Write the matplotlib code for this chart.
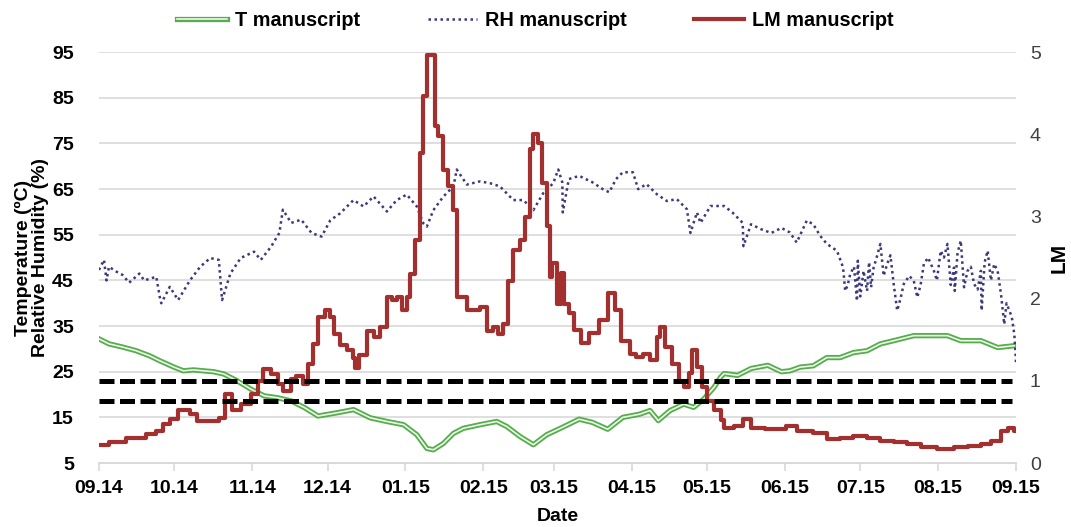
import pandas as pd
import matplotlib
matplotlib.use('Agg')
import matplotlib.pyplot as plt
import matplotlib.patheffects as pe

# day offsets from 14 Sep 2014
t_day = [0, 4, 9.4, 14.8, 20.1, 24.2, 29.9, 33.6, 37.6, 45.6, 49.7, 55, 60.4, 65.8, 71.1,
         76.5, 81.9, 87.2, 94.7, 101.3, 108, 114.6, 121.2, 126.5, 130.5, 133.1, 137.1,
         141.1, 145, 151.7, 158.3, 162.3, 167.6, 172.9, 178.2, 184.4, 191.1, 196.4, 202.5,
         208.5, 215.2, 219.3, 222.6, 227.3, 232.7, 236.7, 240.7, 244.8, 247.4, 248.8,
         254.2, 259.5, 266.2, 271.6, 275, 279, 284.3, 289.7, 295, 300.3, 305.7, 311,
         316.3, 324.3, 331, 337.7, 343, 351, 357.7, 364.3]
t_val = [32.2, 31.1, 30.4, 29.6, 28.5, 27.4, 26.0, 25.2, 25.4, 25.0, 24.5, 23.0, 21.2, 19.7,
         19.3, 18.6, 17.1, 15.3, 16.0, 16.7, 14.9, 14.1, 13.4, 11.2, 8.2, 7.9, 9.3, 11.5,
         12.6, 13.4, 14.1, 13.0, 10.8, 9.0, 11.2, 12.8, 14.6, 13.9, 12.4, 15.0, 15.7, 16.5,
         14.3, 16.5, 17.9, 17.2, 19.0, 21.6, 23.8, 24.6, 24.2, 25.7, 26.4, 25.0, 25.2, 26.0,
         26.3, 28.1, 28.1, 29.2, 29.6, 31.1, 31.8, 32.9, 32.9, 32.9, 31.8, 31.8, 30.3, 30.7]

rh_day = [0, 2, 3, 4, 6.7, 9.4, 12, 16.1, 18, 22.8, 24.2, 24.8, 28.2, 31.5, 36.2, 40.3,
          44.3, 47.7, 49, 52.3, 56.4, 61.7, 64.4, 68.5, 71.8, 73.2, 76.5, 80.5, 84.6, 88.6,
          92.1, 96, 101.3, 105.3, 109.3, 114.6, 118.5, 122.5, 126.5, 129.1, 130.5, 133.1,
          137.1, 141.1, 142.4, 146.4, 151.7, 155.6, 159.6, 164.9, 168.9, 172.9, 176.8,
          180.8, 182.8, 184.4, 184.6, 187, 191.1, 196.4, 200.5, 203.1, 205.8, 208.5, 212.5,
          214.6, 217.9, 222, 226, 230, 234, 235.4, 238, 239.4, 243.4, 248.8, 252.1, 256.2,
          256.5, 259.5, 263.6, 267.6, 271.6, 275, 277.7, 281.7, 284.3, 287, 289.7, 293.7,
          295.7, 296.3, 297, 298, 299, 300.5, 301.7, 302, 303, 304.3, 305.7, 306.5, 307.3,
          308.3, 309.5, 311, 312.3, 313.7, 315, 316.3, 317.7, 319, 320.3, 322.5, 324.3,
          325.7, 327, 328.3, 330, 332.3, 333.5, 335, 336.3, 337.7, 339, 340.3, 340.6, 341.7,
          343, 344.3, 345.7, 347, 348.3, 349.7, 351, 351.3, 352.5, 353.7, 355, 356.3, 357.7,
          359, 360.3, 361.2, 362.3, 363.3, 364.3, 364.7, 365]
rh_val = [47.3, 49.5, 45.0, 48.0, 47.0, 46.2, 44.5, 46.5, 45.0, 45.8, 41.4, 40.0, 43.6, 40.7,
          45.0, 48.0, 49.9, 49.5, 40.7, 46.5, 49.9, 51.3, 49.5, 52.4, 55.4, 60.5, 57.6, 58.3,
          55.4, 54.6, 58.2, 59.7, 62.6, 61.2, 63.4, 60.1, 62.6, 63.8, 61.2, 57.5, 56.8, 60.4,
          63.4, 65.6, 69.3, 66.0, 66.7, 66.3, 65.6, 62.6, 62.6, 60.4, 64.1, 66.3, 69.3, 66.5,
          59.9, 67.2, 67.9, 66.5, 65.0, 64.3, 67.2, 68.7, 68.7, 65.0, 66.1, 63.9, 62.4, 62.8,
          60.6, 55.4, 59.9, 57.6, 61.3, 61.3, 59.9, 57.6, 52.5, 57.3, 56.2, 55.4, 56.5, 55.5,
          53.3, 58.1, 57.3, 54.8, 53.0, 51.5, 48.6, 47.0, 42.7, 44.0, 46.4, 48.0, 40.5, 49.3,
          41.5, 47.1, 42.7, 49.0, 43.5, 47.8, 50.0, 53.0, 46.0, 48.6, 50.5, 44.2, 38.4, 41.0,
          44.2, 46.0, 44.9, 41.3, 44.0, 48.6, 50.0, 47.1, 45.0, 51.5, 50.0, 53.0, 44.0, 47.8,
          42.7, 51.0, 53.7, 43.5, 47.1, 48.0, 44.2, 43.0, 47.1, 38.4, 49.0, 51.5, 45.0, 48.6,
          47.0, 42.0, 35.4, 40.0, 38.4, 37.0, 33.2, 30.0, 26.7]

lm_day = [0, 4, 8, 10.7, 14.8, 18.8, 22.8, 25.5, 28.2, 31.5, 36.2, 38.9, 42.9, 47.7, 50.3,
          53, 56.4, 60.4, 63.1, 65.1, 68.5, 71.1, 73.2, 76.5, 78.5, 81.2, 83.2, 85.2, 87.2,
          89.9, 91.9, 93.4, 96, 98.7, 101.3, 102, 103.3, 106.6, 109.3, 111.9, 114.6, 116.6,
          118.5, 120.5, 122.5, 123.8, 125.8, 127.8, 129.1, 130.5, 132.5, 133.8, 135.1, 137.1,
          139.1, 141.1, 142.4, 144.4, 146.4, 149, 151.7, 154.3, 157, 159, 160.9, 162.9, 164.9,
          167.6, 169.5, 171.5, 172.9, 174.8, 176.2, 178.2, 179.5, 180.3, 182.3, 183.7, 185,
          187, 189, 191.7, 195.1, 199.1, 202.5, 205.2, 207.8, 211.2, 213.9, 216.6, 219.3,
          221.9, 223.3, 225.3, 228, 230.7, 232.7, 234.7, 236, 238, 240.1, 242.1, 244.8, 247.4,
          248.8, 252.8, 256.2, 259.5, 264.9, 270.3, 273.6, 277.7, 284.3, 289.7, 295, 300.3,
          305.7, 311, 316.3, 321.7, 327, 333.7, 340.3, 345.7, 351, 355, 359, 361.7, 364.3, 365]
lm_val = [0.22, 0.25, 0.25, 0.31, 0.31, 0.35, 0.39, 0.47, 0.53, 0.64, 0.60, 0.51, 0.51, 0.55,
          0.84, 0.65, 0.72, 0.84, 1.00, 1.15, 1.08, 0.96, 0.88, 1.02, 1.06, 0.96, 1.20, 1.45,
          1.78, 1.86, 1.78, 1.57, 1.44, 1.37, 1.28, 1.16, 1.32, 1.61, 1.53, 1.65, 2.02, 1.98,
          2.02, 1.86, 2.02, 2.30, 2.71, 3.77, 4.47, 4.96, 4.96, 4.10, 3.98, 3.57, 3.37, 3.08,
          2.02, 2.02, 1.86, 1.86, 1.90, 1.61, 1.65, 1.57, 1.69, 2.22, 2.59, 2.71, 3.00, 3.82,
          4.00, 3.90, 3.41, 2.88, 2.26, 2.43, 1.94, 2.31, 1.94, 1.82, 1.62, 1.46, 1.58, 1.74,
          2.07, 1.86, 1.49, 1.33, 1.29, 1.33, 1.25, 1.53, 1.66, 1.41, 1.21, 1.00, 0.92, 1.09,
          1.37, 1.17, 0.92, 0.76, 0.64, 0.52, 0.43, 0.45, 0.53, 0.43, 0.41, 0.41, 0.45, 0.39,
          0.37, 0.29, 0.31, 0.33, 0.31, 0.27, 0.25, 0.23, 0.19, 0.17, 0.19, 0.21, 0.23, 0.27,
          0.39, 0.43, 0.39, 0.41]

lm_thresholds = [1.0, 0.75]

start = pd.Timestamp('2014-09-14')
end = pd.Timestamp('2015-09-14')


def to_dates(days):
    return start + pd.to_timedelta(days, unit='D')


plt.rcParams['font.family'] = ['Liberation Sans', 'DejaVu Sans']

green = '#55ad4b'
green_core = '#eef7ec'
navy = '#3b387c'
red = '#a3302f'
grid = '#d9d9d9'

fig, ax1 = plt.subplots(figsize=(10.71, 5.27), dpi=100)
fig.subplots_adjust(left=0.0924, right=0.9487, bottom=0.1214, top=0.901)
ax2 = ax1.twinx()

t_line, = ax1.plot(to_dates(t_day), t_val, color=green_core, lw=1.2, label='T manuscript',
                   path_effects=[pe.Stroke(linewidth=3.8, foreground=green), pe.Normal()])
rh_line, = ax1.plot(to_dates(rh_day), rh_val, color=navy, lw=1.8, linestyle=(0, (1, 1.4)),
                    label='RH manuscript')
lm_line, = ax2.plot(to_dates(lm_day), lm_val, color=red, lw=3, drawstyle='steps-post',
                    label='LM manuscript')
for th in lm_thresholds:
    ax2.hlines(th, start, to_dates(363.5), colors='black', lw=3.6, linestyles=(0, (3, 1.1)))

ax1.set_ylim(5, 95)
ax1.set_yticks(range(5, 96, 10))
ax2.set_ylim(0, 5)
ax2.set_yticks(range(0, 6))
ax1.set_xlim(start, end)
months = pd.date_range(start, end, freq=pd.DateOffset(months=1))
ax1.set_xticks(months)
ax1.set_xticklabels([m.strftime('%m.%y') for m in months])

ax1.grid(axis='y', color=grid, lw=1.2)
ax1.set_axisbelow(True)
for a in (ax1, ax2):
    for side in ('left', 'right', 'top'):
        a.spines[side].set_visible(False)
    a.spines['bottom'].set_color(grid)
    a.spines['bottom'].set_linewidth(1.2)

ax1.tick_params(axis='x', length=6, color=grid, width=1.2, pad=6, labelsize=14)
ax1.tick_params(axis='y', length=0, pad=18, labelsize=14)
ax2.tick_params(axis='y', length=0, pad=10, labelsize=14, labelcolor='#404040')
for lab in ax1.get_xticklabels() + ax1.get_yticklabels():
    lab.set_fontweight('bold')

ax1.set_xlabel('Date', fontsize=14, fontweight='bold', labelpad=8)
ax1.set_ylabel('Temperature (ºC)\nRelative Humidity (%)', fontsize=14, fontweight='bold',
               labelpad=2, linespacing=1.0)
ax2.set_ylabel('LM', fontsize=15, fontweight='bold', labelpad=6)

fig.legend(handles=[t_line, rh_line, lm_line], loc='center', bbox_to_anchor=(0.5, 0.962),
           ncol=3, frameon=False, handlelength=2.5, columnspacing=3.4,
           handletextpad=0.4, prop={'weight': 'bold', 'size': 14.3})

fig.savefig('out.png', dpi=100)
